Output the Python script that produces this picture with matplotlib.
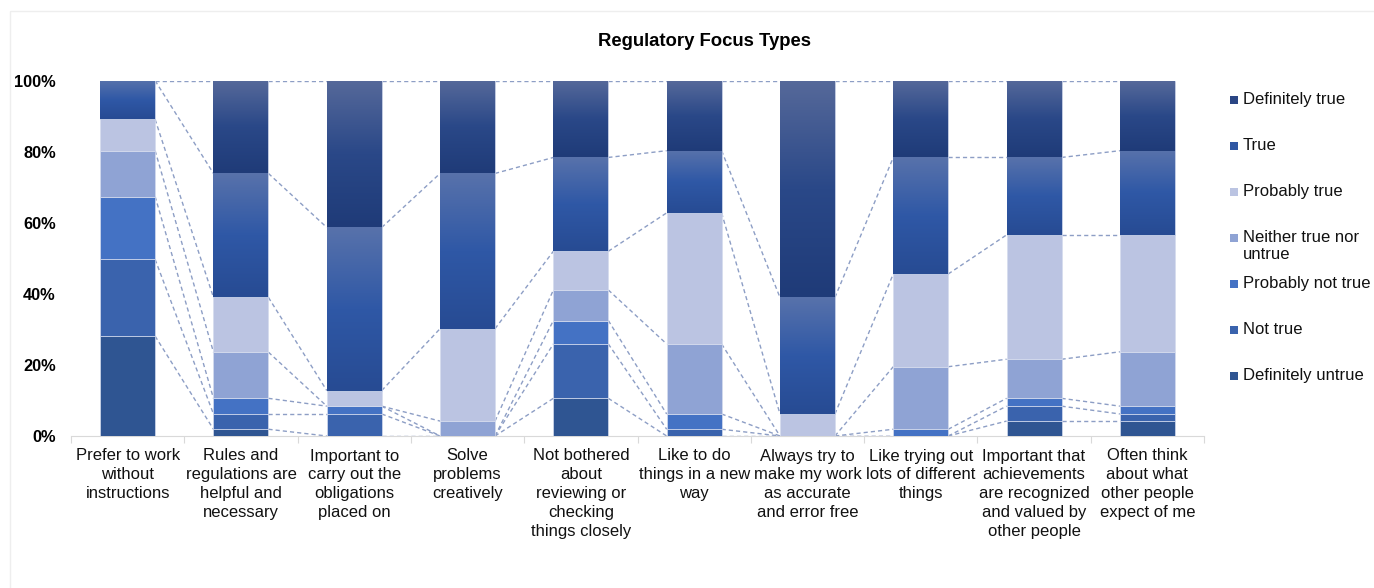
import numpy as np
import matplotlib
matplotlib.use('Agg')
import matplotlib.pyplot as plt
from matplotlib.colors import LinearSegmentedColormap
from matplotlib.patches import Rectangle
from matplotlib.ticker import FuncFormatter, FixedLocator

plt.rcParams['font.family'] = ['Liberation Sans', 'DejaVu Sans']

# ── Data (percent of respondents, bottom → top of each bar) ───────────
categories = [
    'Prefer to work\nwithout\ninstructions',
    'Rules and\nregulations are\nhelpful and\nnecessary',
    'Important to\ncarry out the\nobligations\nplaced on',
    'Solve\nproblems\ncreatively',
    'Not bothered\nabout\nreviewing or\nchecking\nthings closely',
    'Like to do\nthings in a new\nway',
    'Always try to\nmake my work\nas accurate\nand error free',
    'Like trying out\nlots of different\nthings',
    'Important that\nachievements\nare recognized\nand valued by\nother people',
    'Often think\nabout what\nother people\nexpect of me',
]
definitely_untrue = [28.1, 1.9, 0.0, 0.0, 10.6, 0.0, 0.0, 0.0, 4.2, 4.2]
not_true          = [21.6, 4.3, 6.2, 0.0, 15.3, 1.9, 0.0, 0.0, 4.2, 2.0]
probably_not_true = [17.7, 4.4, 2.2, 0.0, 6.6, 4.3, 0.0, 1.9, 2.2, 2.2]
neither           = [12.9, 13.0, 0.0, 4.2, 8.6, 19.7, 0.0, 17.6, 11.0, 15.3]
probably_true     = [8.8, 15.4, 4.4, 26.0, 10.9, 36.9, 6.2, 26.1, 35.0, 32.9]
true_             = [10.9, 34.9, 45.9, 43.7, 26.4, 17.5, 32.8, 32.8, 21.8, 23.7]
definitely_true   = [0.0, 26.1, 41.3, 26.1, 21.6, 19.7, 61.0, 21.6, 21.6, 19.7]

series_names = ['Definitely untrue', 'Not true', 'Probably not true',
                'Neither true nor\nuntrue', 'Probably true', 'True',
                'Definitely true']
series_vals = [definitely_untrue, not_true, probably_not_true, neither,
               probably_true, true_, definitely_true]

# colours (solid) and gradients for the two top series
COLORS = ['#2f5592', '#3a63ad', '#4472c4', '#8fa3d4', '#bbc4e2',
          '#2f57a3', '#25427f']
GRADIENTS = {
    5: ['#5872ab', '#2f58a6', '#274b93'],
    6: ['#56699a', '#2a4888', '#1f3b78'],
}
LEGEND_COLORS = ['#2f5592', '#3a63ad', '#4472c4', '#8fa3d4', '#bbc4e2',
                 '#2f57a3', '#2a4684']

fig = plt.figure(figsize=(13.74, 5.88), dpi=100)
ax = fig.add_axes([71 / 1374, 1 - 436 / 588, 1133 / 1374, (436 - 80.7) / 588])

x = np.arange(len(categories))
w = 0.485
bottom = np.zeros(len(categories))
tops = []
for i, vals in enumerate(series_vals):
    vals = np.array(vals)
    bars = ax.bar(x, vals, w, bottom=bottom, color=COLORS[i],
                  edgecolor='#d5dcee', linewidth=0.5, zorder=3)
    if i in GRADIENTS:
        cmap = LinearSegmentedColormap.from_list('g%d' % i, GRADIENTS[i])
        grad = np.linspace(0, 1, 256).reshape(-1, 1)
        for rect in bars:
            h = rect.get_height()
            if h <= 0:
                continue
            x0 = rect.get_x()
            y0 = rect.get_y()
            im = ax.imshow(grad, cmap=cmap, aspect='auto', origin='upper',
                           extent=[x0, x0 + rect.get_width(), y0, y0 + h],
                           zorder=3.5, interpolation='bicubic')
            im.set_clip_path(rect)
    bottom = bottom + vals
    tops.append(bottom.copy())

# Excel-style series lines connecting the top of each series
for top in tops:
    for j in range(len(categories) - 1):
        ax.plot([x[j] + w / 2, x[j + 1] - w / 2], [top[j], top[j + 1]],
                color='#8d9ec5', lw=1.0, linestyle=(0, (3, 2.2)), zorder=2)

ax.set_xlim(-0.5, len(categories) - 0.5)
ax.set_ylim(0, 100)
ax.set_aspect('auto')
ax.set_yticks([0, 20, 40, 60, 80, 100])
ax.yaxis.set_major_formatter(FuncFormatter(lambda v, p: '%d%%' % v))
ax.tick_params(axis='y', length=0, pad=11, labelsize=11.8)
for lbl in ax.get_yticklabels():
    lbl.set_fontweight('bold')

ax.set_xticks(x)
ax.set_xticklabels(categories, fontsize=12, linespacing=1.33, color='#111111')
ax.tick_params(axis='x', which='major', length=0, pad=9)
ax.xaxis.set_minor_locator(FixedLocator(np.arange(-0.5, len(categories), 1)))
ax.tick_params(axis='x', which='minor', length=5, color='#d9d9d9', width=0.8)

for s in ['top', 'right', 'left']:
    ax.spines[s].set_visible(False)
ax.spines['bottom'].set_color('#d9d9d9')
ax.spines['bottom'].set_linewidth(0.8)

fig.text(704 / 1374, 1 - 42 / 588, 'Regulatory Focus Types', ha='center',
         va='center', fontsize=13.3, fontweight='bold')

# legend (top entry first, as in the reference)
leg_y = [100, 146, 192, 238, 284, 330, 376]
for k, idx in enumerate(range(len(series_names) - 1, -1, -1)):
    yc = leg_y[k]
    fig.patches.append(Rectangle((1230 / 1374, 1 - (yc + 4) / 588),
                                 8 / 1374, 8 / 588, transform=fig.transFigure,
                                 facecolor=LEGEND_COLORS[idx], edgecolor='none'))
    fig.text(1243 / 1374, 1 - (yc - 8) / 588, series_names[idx], ha='left',
             va='top', fontsize=12, linespacing=1.2, color='#111111')

# faint outer frame of the chart area
fig.patches.append(Rectangle((10 / 1374, -0.01), 1.02, 1 - 11 / 588 + 0.01,
                             transform=fig.transFigure, facecolor='none',
                             edgecolor='#eeeeee', linewidth=1.0))

fig.savefig('out.png', dpi=100, facecolor='white')
